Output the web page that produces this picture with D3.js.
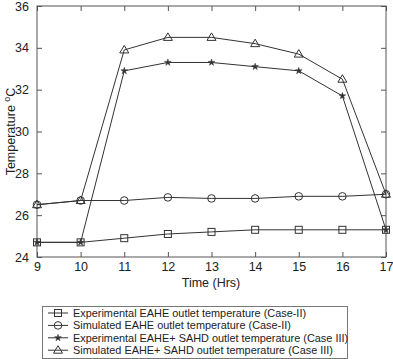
<!DOCTYPE html>
<html><head><meta charset="utf-8">
<script src="https://cdn.jsdelivr.net/npm/d3@7"></script>
<style>body{margin:0;background:#fff}svg{display:block}text{font-family:Arial,"Liberation Sans",sans-serif;fill:#222}</style>
</head><body>
<script>
const hours = [9,10,11,12,13,14,15,16,17];
const expEAHE = [24.7,24.7,24.9,25.1,25.2,25.3,25.3,25.3,25.3];
const simEAHE = [26.5,26.7,26.7,26.85,26.8,26.8,26.9,26.9,27.0];
const expSAHD = [24.7,24.7,32.9,33.3,33.3,33.1,32.9,31.7,25.3];
const simSAHD = [26.5,26.7,33.9,34.5,34.5,34.2,33.7,32.5,27.0];
const seriesNames = ["Experimental EAHE outlet temperature (Case-II)","Simulated EAHE outlet temperature (Case-II)","Experimental EAHE+ SAHD outlet temperature (Case III)","Simulated EAHE+ SAHD outlet temperature (Case III)"];
const markers = ["square","circle","star","triangle"];
const yTicks = [24,26,28,30,32,34,36];
const xTicks = [9,10,11,12,13,14,15,16,17];

const W=393,H=359;
const L=37,R=386,T=6,B=257;
const svg=d3.select("body").append("svg").attr("width",W).attr("height",H);
const x=d3.scaleLinear().domain([9,17]).range([L,R]);
const y=d3.scaleLinear().domain([24,36]).range([B,T]);
const axisCol="#555", lineCol="#333";

svg.append("rect").attr("x",L).attr("y",T).attr("width",R-L).attr("height",B-T).attr("fill","none").attr("stroke",axisCol).attr("stroke-width",1);
const g=svg.append("g");
const ax=(gen,tr)=>{const a=g.append("g").attr("transform",tr).call(gen);a.select(".domain").remove();a.selectAll("line").attr("stroke",axisCol);a.selectAll("text").attr("font-size",12.5).style("fill","#222");return a;};
ax(d3.axisBottom(x).tickValues(xTicks).tickSize(-5).tickPadding(5).tickFormat(d3.format("d")),`translate(0,${B})`);
ax(d3.axisTop(x).tickValues(xTicks).tickSize(-5).tickFormat(""),`translate(0,${T})`);
ax(d3.axisLeft(y).tickValues(yTicks).tickSize(-5).tickPadding(8).tickFormat(d3.format("d")),`translate(${L},0)`);
ax(d3.axisRight(y).tickValues(yTicks).tickSize(-5).tickFormat(""),`translate(${R},0)`);

svg.append("text").attr("x",211).attr("y",287).attr("text-anchor","middle").attr("font-size",12.5).text("Time (Hrs)");
const yl=svg.append("text").attr("transform",`translate(15,${(T+B)/2}) rotate(-90)`).attr("text-anchor","middle").attr("font-size",12.5);
yl.append("tspan").text("Temperature ");
yl.append("tspan").attr("font-size",9).attr("dy",-5).text("o");
yl.append("tspan").attr("dy",5).text("C");

function drawMarker(sel,type,cx,cy){
  if(type==="square") sel.append("rect").attr("x",cx-3.5).attr("y",cy-3.5).attr("width",7).attr("height",7).attr("fill","none").attr("stroke",lineCol);
  else if(type==="circle") sel.append("circle").attr("cx",cx).attr("cy",cy).attr("r",3.8).attr("fill","none").attr("stroke",lineCol);
  else if(type==="star") sel.append("path").attr("d",d3.symbol(d3.symbolStar,14)()).attr("transform",`translate(${cx},${cy})`).attr("fill",lineCol).attr("stroke",lineCol).attr("stroke-width",0.5);
  else sel.append("path").attr("d",`M${cx},${cy-4.5}L${cx+4.5},${cy+3}L${cx-4.5},${cy+3}Z`).attr("fill","none").attr("stroke",lineCol);
}
const all=[expEAHE,simEAHE,expSAHD,simSAHD];
const line=d3.line().x((d,i)=>x(hours[i])).y(d=>y(d));
all.forEach((s,k)=>{
  svg.append("path").attr("d",line(s)).attr("fill","none").attr("stroke",lineCol).attr("stroke-width",1);
  const mg=svg.append("g");
  s.forEach((v,i)=>drawMarker(mg,markers[k],x(hours[i]),y(v)));
});

const lg=svg.append("g");
lg.append("rect").attr("x",42.5).attr("y",306.5).attr("width",305).attr("height",52).attr("fill","#fff").attr("stroke","#777");
seriesNames.forEach((n,k)=>{
  const ly=313+k*12.4;
  lg.append("line").attr("x1",48).attr("x2",68).attr("y1",ly).attr("y2",ly).attr("stroke",lineCol);
  drawMarker(lg,markers[k],58,ly);
  lg.append("text").attr("x",73).attr("y",ly+4).attr("font-size",10.9).text(n);
});
</script>
</body></html>
